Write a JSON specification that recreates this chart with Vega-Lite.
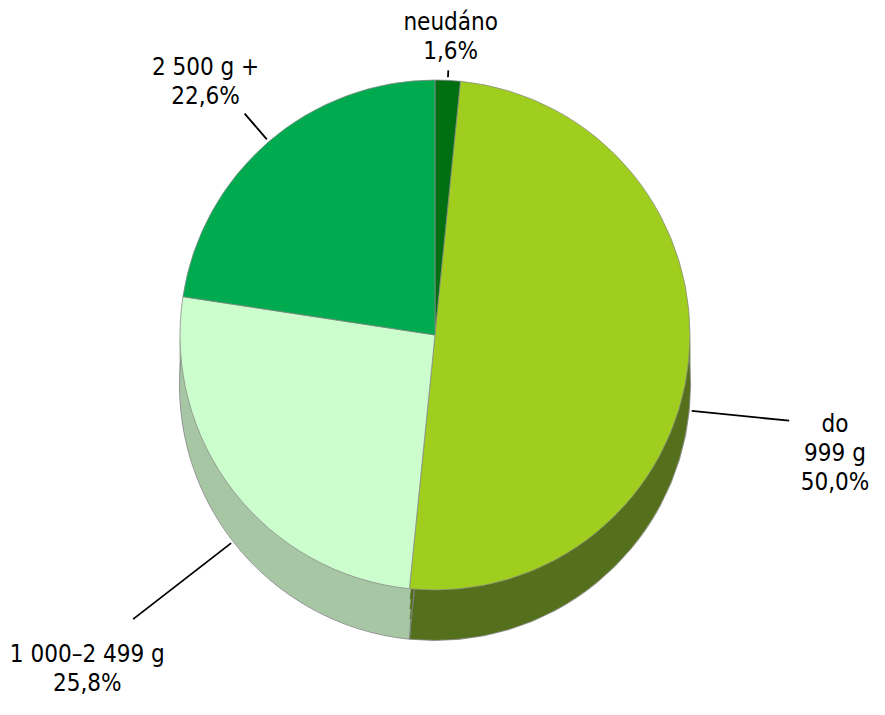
{
  "$schema": "https://vega.github.io/schema/vega-lite/v6.json",
  "width": 870,
  "height": 670,
  "autosize": {"type": "none"},
  "padding": {"left": 0, "top": 0, "right": 15, "bottom": 45},
  "background": "white",
  "config": {
    "view": {"stroke": null},
    "text": {"font": "'Liberation Sans Narrow', 'DejaVu Sans Condensed', 'Liberation Sans', sans-serif", "fontSize": 24, "color": "#000000"}
  },
  "data": {
    "values": [
      {"category": "neudáno", "value": 1.6, "ord": 1, "label": "neudáno\n1,6%"},
      {"category": "do 999 g", "value": 50.0, "ord": 2, "label": "do\n999 g\n50,0%"},
      {"category": "1 000–2 499 g", "value": 25.8, "ord": 3, "label": "1 000–2 499 g\n25,8%"},
      {"category": "2 500 g +", "value": 22.6, "ord": 4, "label": "2 500 g +\n22,6%"}
    ]
  },
  "encoding": {
    "theta": {"field": "value", "type": "quantitative", "stack": true},
    "order": {"field": "ord", "type": "quantitative"}
  },
  "layer": [
    {
      "mark": {"type": "arc", "outerRadius": 255, "yOffset": 50, "strokeWidth": 0.75},
      "encoding": {
        "fill": {"field": "category", "type": "nominal", "legend": null,
          "scale": {"domain": ["neudáno", "do 999 g", "1 000–2 499 g", "2 500 g +"], "range": ["#004F10", "#55701C", "#A6C6A4", "#007F3A"]}},
        "stroke": {"field": "category", "type": "nominal", "legend": null,
          "scale": {"domain": ["neudáno", "do 999 g", "1 000–2 499 g", "2 500 g +"], "range": ["#004F10", "#55701C", "#A6C6A4", "#007F3A"]}}
      }
    },
    {
      "mark": {"type": "arc", "outerRadius": 255, "yOffset": 40, "strokeWidth": 0.75},
      "encoding": {"fill": {"field": "category", "type": "nominal", "legend": null}, "stroke": {"field": "category", "type": "nominal", "legend": null}}
    },
    {
      "mark": {"type": "arc", "outerRadius": 255, "yOffset": 30, "strokeWidth": 0.75},
      "encoding": {"fill": {"field": "category", "type": "nominal", "legend": null}, "stroke": {"field": "category", "type": "nominal", "legend": null}}
    },
    {
      "mark": {"type": "arc", "outerRadius": 255, "yOffset": 20, "strokeWidth": 0.75},
      "encoding": {"fill": {"field": "category", "type": "nominal", "legend": null}, "stroke": {"field": "category", "type": "nominal", "legend": null}}
    },
    {
      "mark": {"type": "arc", "outerRadius": 255, "yOffset": 10, "strokeWidth": 0.75},
      "encoding": {"fill": {"field": "category", "type": "nominal", "legend": null}, "stroke": {"field": "category", "type": "nominal", "legend": null}}
    },
    {
      "mark": {"type": "arc", "outerRadius": 255.5, "yOffset": 50, "fillOpacity": 0, "stroke": "#7f7f7f", "strokeWidth": 0.8, "padAngle": 0},
      "encoding": {}
    },
    {
      "mark": {"type": "arc", "outerRadius": 255, "stroke": "#8a8a8a", "strokeWidth": 0.75},
      "encoding": {
        "color": {"field": "category", "type": "nominal", "legend": null,
          "scale": {"domain": ["neudáno", "do 999 g", "1 000–2 499 g", "2 500 g +"], "range": ["#006F12", "#A0CE1E", "#CCFDCC", "#00AA4F"]}}
      }
    },
    {
      "mark": {"type": "arc", "innerRadius": 258, "outerRadius": 265, "padAngle": 3, "fillOpacity": 0, "stroke": "#000000", "strokeWidth": 1.8},
      "encoding": {"strokeOpacity": {"condition": {"test": "datum.category === 'neudáno'", "value": 1}, "value": 0}}
    },
    {
      "mark": {"type": "arc", "innerRadius": 258, "outerRadius": 292, "padAngle": 3, "fillOpacity": 0, "stroke": "#000000", "strokeWidth": 1.8},
      "encoding": {"strokeOpacity": {"condition": {"test": "datum.category === '2 500 g +'", "value": 1}, "value": 0}}
    },
    {
      "mark": {"type": "arc", "innerRadius": 258, "outerRadius": 356, "yOffset": 50, "padAngle": 3, "fillOpacity": 0, "stroke": "#000000", "strokeWidth": 1.8},
      "encoding": {"strokeOpacity": {"condition": {"test": "datum.category === 'do 999 g'", "value": 1}, "value": 0}}
    },
    {
      "mark": {"type": "arc", "innerRadius": 258, "outerRadius": 382, "yOffset": 50, "padAngle": 3, "fillOpacity": 0, "stroke": "#000000", "strokeWidth": 1.8},
      "encoding": {"strokeOpacity": {"condition": {"test": "datum.category === '1 000–2 499 g'", "value": 1}, "value": 0}}
    },
    {
      "mark": {"type": "text", "radius": 312, "align": "center", "baseline": "middle", "lineBreak": "\n", "lineHeight": 29},
      "encoding": {"text": {"condition": {"test": "datum.category === 'neudáno'", "field": "label"}, "value": ""}}
    },
    {
      "mark": {"type": "text", "radius": 352, "align": "center", "baseline": "middle", "lineBreak": "\n", "lineHeight": 29},
      "encoding": {"text": {"condition": {"test": "datum.category === '2 500 g +'", "field": "label"}, "value": ""}}
    },
    {
      "mark": {"type": "text", "radius": 402, "yOffset": 50, "align": "center", "baseline": "middle", "lineBreak": "\n", "lineHeight": 29},
      "encoding": {"text": {"condition": {"test": "datum.category === 'do 999 g'", "field": "label"}, "value": ""}}
    },
    {
      "mark": {"type": "text", "radius": 440, "yOffset": 50, "align": "center", "baseline": "middle", "lineBreak": "\n", "lineHeight": 29},
      "encoding": {"text": {"condition": {"test": "datum.category === '1 000–2 499 g'", "field": "label"}, "value": ""}}
    }
  ]
}
